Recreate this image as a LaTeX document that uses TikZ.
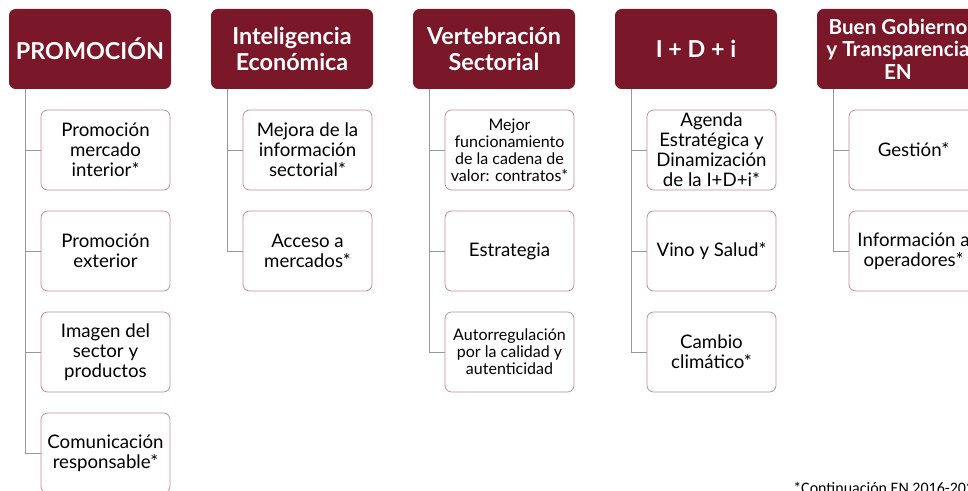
\documentclass[tikz,border=0pt]{standalone}
\usepackage{fontspec}
\setmainfont{Lato}
\newfontfamily\notafont{Carlito}
\definecolor{vino}{HTML}{7A1729}
\definecolor{vinoclaro}{HTML}{C48B95}
\tikzset{
  cabecera/.style={fill=vino, rounded corners=5pt, minimum width=121.5pt,
    minimum height=60pt, inner sep=0pt, text=white, align=center,
    font=\bfseries\fontsize{17.5}{19}\selectfont},
  accion/.style={draw=vinoclaro, line width=0.6pt, fill=white, rounded corners=5pt,
    minimum width=96.75pt, minimum height=60pt, inner sep=1pt, align=center,
    font=\fontsize{14}{15}\selectfont},
  menor/.style={font=\fontsize{12}{12.8}\selectfont},
  rama/.style={draw=gray!80, line width=0.6pt}
}

\begin{document}
\begin{tikzpicture}[x=0.75pt,y=-0.75pt]
\useasboundingbox (0,0) rectangle (968,491);

\node[cabecera] (cab1) at (90,49) {PROMOCIÓN};
\node[accion] (cab1-1) at (105.5,150) {Promoción\\mercado\\interior*};
\node[accion] (cab1-2) at (105.5,251) {Promoción\\exterior};
\node[accion] (cab1-3) at (105.5,352) {Imagen del\\sector y\\productos};
\node[accion] (cab1-4) at (105.5,453) {Comunicación\\responsable*};

\node[cabecera] (cab2) at (292,49) {Inteligencia\\Económica};
\node[accion] (cab2-1) at (307.5,150) {Mejora de la\\información\\sectorial*};
\node[accion] (cab2-2) at (307.5,251) {Acceso a\\mercados*};

\node[cabecera] (cab3) at (494,49) {Vertebración\\Sectorial};
\node[accion,menor] (cab3-1) at (509.5,150) {Mejor\\funcionamiento\\de la cadena de\\valor: contratos*};
\node[accion] (cab3-2) at (509.5,251) {Estrategia};
\node[accion,menor] (cab3-3) at (509.5,352) {Autorregulación\\por la calidad y\\autenticidad};

\node[cabecera] (cab4) at (696,49) {I + D + i};
\node[accion] (cab4-1) at (711.5,150) {Agenda\\Estratégica y\\Dinamización\\de la I+D+i*};
\node[accion] (cab4-2) at (711.5,251) {Vino y Salud*};
\node[accion] (cab4-3) at (711.5,352) {Cambio\\climático*};

\node[cabecera,font=\bfseries\fontsize{15.5}{17}\selectfont] (cab5) at (898,49) {Buen Gobierno\\y Transparencia\\EN};
\node[accion] (cab5-1) at (913.5,150) {Gestión*};
\node[accion] (cab5-2) at (913.5,251) {Información a\\operadores*};

\foreach \c/\n in {1/4,2/2,3/3,4/3,5/2} {
    \coordinate (r\c) at ([xshift=12.4pt]cab\c.south west);
    \foreach \k in {1,...,\n}
        \draw[rama] (r\c) |- (cab\c-\k.west);
}

\node[anchor=base west, inner sep=0pt, font=\notafont\fontsize{12}{13}\selectfont] (nota) at (793,494) {*Continuación EN 2016-2020};
\end{tikzpicture}
\end{document}
